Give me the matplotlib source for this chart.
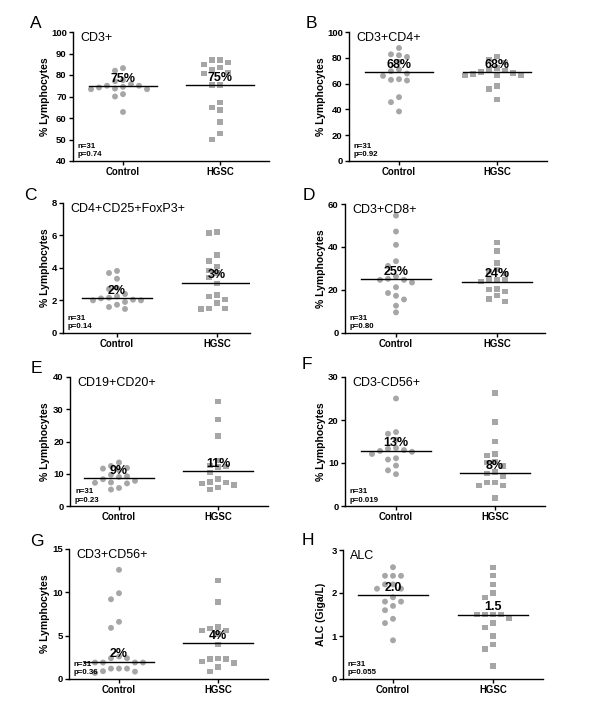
import matplotlib
matplotlib.use('Agg')
import matplotlib.pyplot as plt
import numpy as np

plt.rcParams['font.family'] = ['Liberation Sans', 'DejaVu Sans']

groups = ['Control', 'HGSC']
letters = ['A', 'B', 'C', 'D', 'E', 'F', 'G', 'H']
titles = ['CD3+', 'CD3+CD4+', 'CD4+CD25+FoxP3+', 'CD3+CD8+',
          'CD19+CD20+', 'CD3-CD56+', 'CD3+CD56+', 'ALC']
ylabels = ['% Lymphocytes'] * 7 + ['ALC (Giga/L)']
p_values = ['0.74', '0.92', '0.14', '0.80', '0.23', '0.019', '0.36', '0.055']
n_total = 31

ctrl_A = [83.2, 82.0, 77.6, 77.1, 75.7, 75.0, 75.0, 74.5, 74.2, 73.7, 73.4, 73.4, 71.1, 70.0, 62.8]
hgsc_A = [86.9, 86.9, 85.8, 84.8, 83.5, 82.4, 81.2, 80.7, 75.4, 75.4, 67.1, 65.0, 63.7, 58.2, 52.7, 50.1]
ctrl_B = [87.6, 82.7, 82.0, 80.7, 76.8, 71.0, 69.6, 67.8, 66.0, 63.4, 62.9, 62.4, 49.5, 45.6, 38.4]
hgsc_B = [81.2, 78.6, 76.5, 72.2, 71.0, 70.0, 69.0, 68.3, 67.3, 66.8, 66.2, 66.2, 58.2, 55.7, 47.9]
ctrl_C = [3.82, 3.69, 3.34, 2.77, 2.71, 2.40, 2.26, 2.17, 2.13, 2.05, 2.01, 2.01, 1.91, 1.74, 1.60, 1.48]
hgsc_C = [6.22, 6.15, 4.80, 4.43, 4.10, 3.86, 3.69, 3.40, 3.06, 2.34, 2.26, 2.05, 1.85, 1.52, 1.52, 1.48]
ctrl_D = [54.6, 47.2, 41.0, 33.4, 31.2, 26.3, 25.2, 24.7, 24.7, 23.5, 21.3, 18.6, 17.3, 15.6, 12.7, 9.6]
hgsc_D = [42.0, 38.2, 32.5, 29.4, 28.6, 27.8, 25.0, 24.7, 24.7, 24.0, 20.4, 20.1, 19.2, 17.3, 15.8, 14.7]
ctrl_E = [13.5, 12.4, 11.8, 11.6, 11.1, 9.7, 9.2, 9.0, 8.3, 7.8, 7.3, 7.2, 7.0, 5.6, 5.1]
hgsc_E = [32.4, 26.8, 21.7, 14.2, 12.5, 12.3, 12.1, 10.4, 8.4, 7.5, 7.3, 6.9, 6.5, 5.8, 5.2]
ctrl_F = [25.0, 17.2, 16.8, 15.4, 13.5, 13.3, 13.0, 12.8, 12.6, 12.1, 11.1, 10.8, 9.4, 8.3, 7.4]
hgsc_F = [26.3, 19.5, 15.0, 12.1, 11.7, 10.3, 10.1, 9.3, 7.9, 7.6, 6.9, 5.5, 5.5, 4.8, 4.8, 1.9]
ctrl_G = [12.6, 9.9, 9.2, 6.6, 5.9, 2.6, 2.4, 2.4, 1.9, 1.9, 1.9, 1.9, 1.2, 1.2, 1.2, 0.9, 0.85, 0.7]
hgsc_G = [11.4, 8.9, 6.0, 5.8, 5.6, 5.6, 5.2, 4.0, 2.4, 2.3, 2.3, 2.0, 1.85, 1.4, 0.9]
ctrl_H = [2.6, 2.4, 2.4, 2.4, 2.2, 2.2, 2.1, 2.1, 1.9, 1.8, 1.8, 1.7, 1.6, 1.4, 1.3, 0.9]
hgsc_H = [2.6, 2.4, 2.2, 2.0, 1.9, 1.5, 1.5, 1.5, 1.5, 1.4, 1.3, 1.2, 1.0, 0.8, 0.7, 0.3]

ctrl_data = [ctrl_A, ctrl_B, ctrl_C, ctrl_D, ctrl_E, ctrl_F, ctrl_G, ctrl_H]
hgsc_data = [hgsc_A, hgsc_B, hgsc_C, hgsc_D, hgsc_E, hgsc_F, hgsc_G, hgsc_H]
center_ctrl = [74.8, 68.8, 2.13, 25.0, 8.6, 12.9, 2.0, 1.95]
center_hgsc = [75.4, 68.8, 3.10, 23.8, 10.75, 7.7, 4.1, 1.5]
center_labels_ctrl = ['75%', '68%', '2%', '25%', '9%', '13%', '2%', '2.0']
center_labels_hgsc = ['75%', '68%', '3%', '24%', '11%', '8%', '4%', '1.5']
y_limits = [(40, 100), (0, 100), (0, 8), (0, 60), (0, 40), (0, 30), (0, 15), (0, 3)]
y_steps = [10, 20, 2, 20, 10, 10, 5, 1]

# layout in pixels: axis left, axis right, axis top, axis bottom, ctrl tick x, hgsc tick x
W, H = 600, 717
layout = [
    (73, 269, 32, 161, 123, 220),
    (349, 547, 32, 161, 399, 497),
    (63, 250, 203, 333, 117, 217),
    (345, 545, 204, 333, 396, 497),
    (70, 268, 377, 506, 119, 218),
    (345, 545, 377, 506, 396, 495),
    (69, 268, 549, 679, 119, 218),
    (343, 543, 550, 679, 393, 493),
]
letter_pos = [(30, 28), (306, 28), (24, 200), (303, 200), (31, 373), (302, 369), (30, 546), (302, 545)]
ylabel_right = [50, 326]

gray = '#a6a6a6'


def swarm_slots(values, px_per_unit, min_dist=6.5):
    vals = np.asarray(values, float)
    order = np.argsort(-vals, kind='stable')
    placed = []
    slots = np.zeros(len(vals))
    for i in order:
        y = vals[i] * px_per_unit
        for k in [0, -1, 1, -2, 2, -3, 3, -4, 4, -5, 5]:
            if all(not (s == k and abs(py - y) < min_dist) for s, py in placed):
                break
        placed.append((k, y))
        slots[i] = k
    return slots


fig = plt.figure(figsize=(W / 100, H / 100), dpi=100)

for i in range(8):
    x0, x1, yt, yb, xc, xh = layout[i]
    ax = fig.add_axes([x0 / W, 1 - yb / H, (x1 - x0) / W, (yb - yt) / H])
    unit = xh - xc
    ax.set_xlim((x0 - xc) / unit, (x1 - xc) / unit)
    ymin, ymax = y_limits[i]
    ax.set_ylim(ymin, ymax)
    ppu = (yb - yt) / (ymax - ymin)
    step = 8.0 / unit
    for g, (vals, mk) in enumerate([(ctrl_data[i], 'o'), (hgsc_data[i], 's')]):
        slots = swarm_slots(vals, ppu)
        ax.scatter(g + slots * step, vals, s=18 if mk == 'o' else 15, marker=mk,
                   color=gray, edgecolors='none', zorder=2, clip_on=False)
    for g, (c, lab) in enumerate([(center_ctrl[i], center_labels_ctrl[i]),
                                  (center_hgsc[i], center_labels_hgsc[i])]):
        ax.plot([g - 0.35, g + 0.35], [c, c], color='black', lw=1.0, zorder=3)
        ax.annotate(lab, (g, c), xytext=(0, 1), textcoords='offset points',
                    ha='center', va='bottom', fontsize=9, fontweight='bold', zorder=4)
    ax.set_xticks([0, 1])
    ax.set_xticklabels(groups, fontsize=6.9, fontweight='bold')
    ax.set_yticks(np.arange(ymin, ymax + y_steps[i] * 0.5, y_steps[i]))
    for t in ax.get_yticklabels():
        t.set_fontsize(6.8)
        t.set_fontweight('bold')
    for s in ['top', 'right']:
        ax.spines[s].set_visible(False)
    for s in ['left', 'bottom']:
        ax.spines[s].set_linewidth(1.0)
    ax.tick_params(direction='out', length=3, width=1.0, pad=1.5)
    ax.set_ylabel(ylabels[i], fontsize=7.5, fontweight='bold')
    col = 0 if x0 < 300 else 1
    ax.yaxis.set_label_coords((ylabel_right[col] - x0) / (x1 - x0), 0.5)
    ax.text(7 / (x1 - x0), 1.0, titles[i], transform=ax.transAxes, ha='left', va='top',
            fontsize=9)
    ax.text(5 / (x1 - x0), 2.5 / (yb - yt), 'n=%d\np=%s' % (n_total, p_values[i]),
            transform=ax.transAxes, ha='left', va='bottom', fontsize=5.7,
            fontweight='bold', linespacing=1.35)
    lx, ly = letter_pos[i]
    fig.text(lx / W, 1 - ly / H, letters[i], fontsize=12.5, ha='left', va='baseline')

fig.savefig('out.png', dpi=100)
